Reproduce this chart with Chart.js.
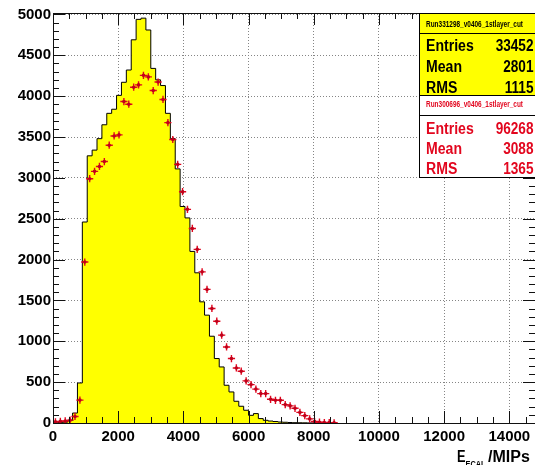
<!DOCTYPE html>
<html>
<head>
<meta charset="utf-8">
<script src="https://cdn.jsdelivr.net/npm/chart.js@4.4.1/dist/chart.umd.min.js"></script>
<style>
  html, body { margin: 0; padding: 0; background: #fff; }
  canvas { display: block; }
</style>
</head>
<body>
<canvas id="ecalChart" width="535" height="465"></canvas>
<script>
// histogram: 150 MIP bins starting at 0
const BIN_WIDTH = 150;

// Run331298 (yellow filled histogram)
const yellowCounts = [
  3, 5, 10, 30, 122, 490, 2460, 3270, 3340, 3480,
  3650, 3790, 3840, 4010, 4170, 4320, 4690, 4940, 4955, 4810,
  4340, 4200, 4130, 3790, 3480, 3110, 2650, 2510, 2100, 1838,
  1483, 1320, 1062, 789, 686, 462, 380, 266, 205, 156,
  94, 115, 54, 33, 24, 18, 12, 9, 6, 4,
  3, 2, 1, 1
];

// Run300696 (red points)
const redCounts = [
  15, 20, 25, 35, 80, 280, 1970, 2990, 3080, 3140,
  3200, 3400, 3513, 3526, 3934, 3902, 4110, 4138, 4255, 4236,
  4069, 4173, 3960, 3676, 3470, 3165, 2831, 2615, 2381, 2125,
  1850, 1635, 1402, 1246, 1075, 931, 789, 674, 634, 515,
  470, 415, 360, 360, 290, 278, 278, 225, 210, 180,
  130, 90, 50, 18, 10, 6, 4, 3
];

const xTickValues = [0, 2000, 4000, 6000, 8000, 10000, 12000, 14000];
const yTickValues = [0, 500, 1000, 1500, 2000, 2500, 3000, 3500, 4000, 4500, 5000];
const X_MINOR_STEP = 500;
const Y_MINOR_STEP = 100;

const statLabels = ["Entries", "Mean", "RMS"];
const yellowTitle = "Run331298_v0406_1stlayer_cut";
const yellowStats = ["33452", "2801", "1115"];
const redTitle = "Run300696_v0406_1stlayer_cut";
const redStats = ["96268", "3088", "1365"];

const YELLOW = "#ffff00";
const RED = "#e2061e";
const FONT = "'Liberation Sans', Arial, Helvetica, sans-serif";

const yellowPoints = yellowCounts.map((v, i) => ({ x: i * BIN_WIDTH, y: v }));
yellowPoints.push({ x: yellowCounts.length * BIN_WIDTH, y: 0 });
const redPoints = redCounts.map((v, i) => ({ x: (i + 0.5) * BIN_WIDTH, y: v }));

function drawText(ctx, text, x, y, font, color, align, scaleX) {
  ctx.save();
  ctx.font = font;
  ctx.fillStyle = color;
  ctx.textAlign = align;
  ctx.textBaseline = "alphabetic";
  ctx.translate(x, y);
  ctx.scale(scaleX, 1);
  ctx.fillText(text, 0, 0);
  ctx.restore();
}

function fitText(ctx, text, cx, y, font, color, width) {
  ctx.save();
  ctx.font = font;
  const w = ctx.measureText(text).width;
  ctx.restore();
  drawText(ctx, text, cx, y, font, color, "center", width / w);
}

// ROOT style: inner ticks on all four sides + frame
const rootFrame = {
  id: "rootFrame",
  afterDatasetsDraw(chart) {
    const { ctx, chartArea: a, scales: { x, y } } = chart;
    ctx.save();
    ctx.strokeStyle = "#111";
    ctx.lineWidth = 1;
    ctx.beginPath();
    for (let v = 0; v <= x.max; v += X_MINOR_STEP) {
      const px = Math.round(x.getPixelForValue(v)) + 0.5;
      const len = v % 2000 === 0 ? 12 : 6;
      ctx.moveTo(px, a.bottom); ctx.lineTo(px, a.bottom - len);
      ctx.moveTo(px, a.top); ctx.lineTo(px, a.top + len);
    }
    for (let v = 0; v <= y.max; v += Y_MINOR_STEP) {
      const py = Math.round(y.getPixelForValue(v)) + 0.5;
      const len = v % 500 === 0 ? 12 : 6;
      ctx.moveTo(a.left, py); ctx.lineTo(a.left + len, py);
      ctx.moveTo(a.right, py); ctx.lineTo(a.right - len, py);
    }
    ctx.stroke();
    ctx.strokeRect(a.left + 0.5, a.top + 0.5, a.right - a.left, a.bottom - a.top);
    ctx.restore();
  },
  afterDraw(chart) {
    const { ctx } = chart;
    ctx.save();
    // stats boxes
    ctx.fillStyle = YELLOW;
    ctx.fillRect(419.5, 13.5, 130, 82);
    ctx.fillStyle = "#fff";
    ctx.fillRect(419.5, 95.5, 130, 82);
    ctx.strokeStyle = "#000";
    ctx.lineWidth = 1;
    ctx.strokeRect(419.5, 13.5, 130, 82);
    ctx.strokeRect(419.5, 95.5, 130, 82);
    ctx.beginPath();
    ctx.moveTo(419.5, 33.5); ctx.lineTo(540, 33.5);
    ctx.moveTo(419.5, 115.5); ctx.lineTo(540, 115.5);
    ctx.stroke();

    fitText(ctx, yellowTitle, 474.5, 26.5, "bold 9px " + FONT, "#000", 97);
    fitText(ctx, redTitle, 474.5, 107, "bold 9px " + FONT, RED, 97);

    const rows1 = [51, 72, 92.5];
    const rows2 = [134, 154, 174];
    statLabels.forEach((lab, i) => {
      drawText(ctx, lab, 426, rows1[i], "bold 16px " + FONT, "#000", "left", 0.88);
      drawText(ctx, yellowStats[i], 533.5, rows1[i], "bold 16px " + FONT, "#000", "right", 0.85);
      drawText(ctx, lab, 426, rows2[i], "bold 16px " + FONT, RED, "left", 0.88);
      drawText(ctx, redStats[i], 533.5, rows2[i], "bold 16px " + FONT, RED, "right", 0.85);
    });

    // x axis title  E_ECAL /MIPs
    drawText(ctx, "E", 457, 461.5, "bold 16px " + FONT, "#000", "left", 0.8);
    drawText(ctx, "ECAL", 465.5, 467, "bold 9px " + FONT, "#000", "left", 0.82);
    drawText(ctx, "/MIPs", 488, 461.5, "bold 16px " + FONT, "#000", "left", 1.0);
    ctx.restore();
  }
};

const ctx = document.getElementById("ecalChart").getContext("2d");
new Chart(ctx, {
  data: {
    datasets: [
      {
        type: "scatter",
        data: redPoints,
        pointStyle: "circle",
        pointRadius: 1.8,
        pointBackgroundColor: "#c0001a",
        pointBorderWidth: 0,
        order: 0
      },
      {
        type: "scatter",
        data: redPoints,
        pointStyle: "cross",
        pointRadius: 3.6,
        pointBorderColor: RED,
        pointBorderWidth: 1.4,
        order: 1
      },
      {
        type: "line",
        data: yellowPoints,
        stepped: true,
        fill: "origin",
        backgroundColor: YELLOW,
        borderColor: "#000",
        borderWidth: 1,
        pointRadius: 0,
        order: 2
      }
    ]
  },
  options: {
    responsive: false,
    devicePixelRatio: 1,
    animation: false,
    layout: { autoPadding: false, padding: { left: 0, right: 0, top: 13, bottom: 0 } },
    plugins: {
      legend: { display: false },
      tooltip: { enabled: false }
    },
    scales: {
      x: {
        type: "linear",
        min: 0,
        max: 14788,
        afterFit: s => { s.height = 42; s.paddingLeft = 0; s.paddingRight = 0; },
        afterBuildTicks: s => { s.ticks = xTickValues.map(v => ({ value: v })); },
        ticks: {
          color: "#000",
          padding: 5,
          maxRotation: 0,
          font: { family: FONT, size: 15, weight: "bold" },
          callback: v => String(v)
        },
        grid: { color: "#858585", drawTicks: false },
        border: { display: false, dash: [1, 2] }
      },
      y: {
        type: "linear",
        min: 0,
        max: 5018,
        afterFit: s => { s.width = 53; },
        afterBuildTicks: s => { s.ticks = yTickValues.map(v => ({ value: v })); },
        ticks: {
          color: "#000",
          padding: 2,
          font: { family: FONT, size: 15, weight: "bold" },
          callback: v => String(v)
        },
        grid: { color: "#858585", drawTicks: false },
        border: { display: false, dash: [1, 2] }
      }
    }
  },
  plugins: [rootFrame]
});
</script>
</body>
</html>
